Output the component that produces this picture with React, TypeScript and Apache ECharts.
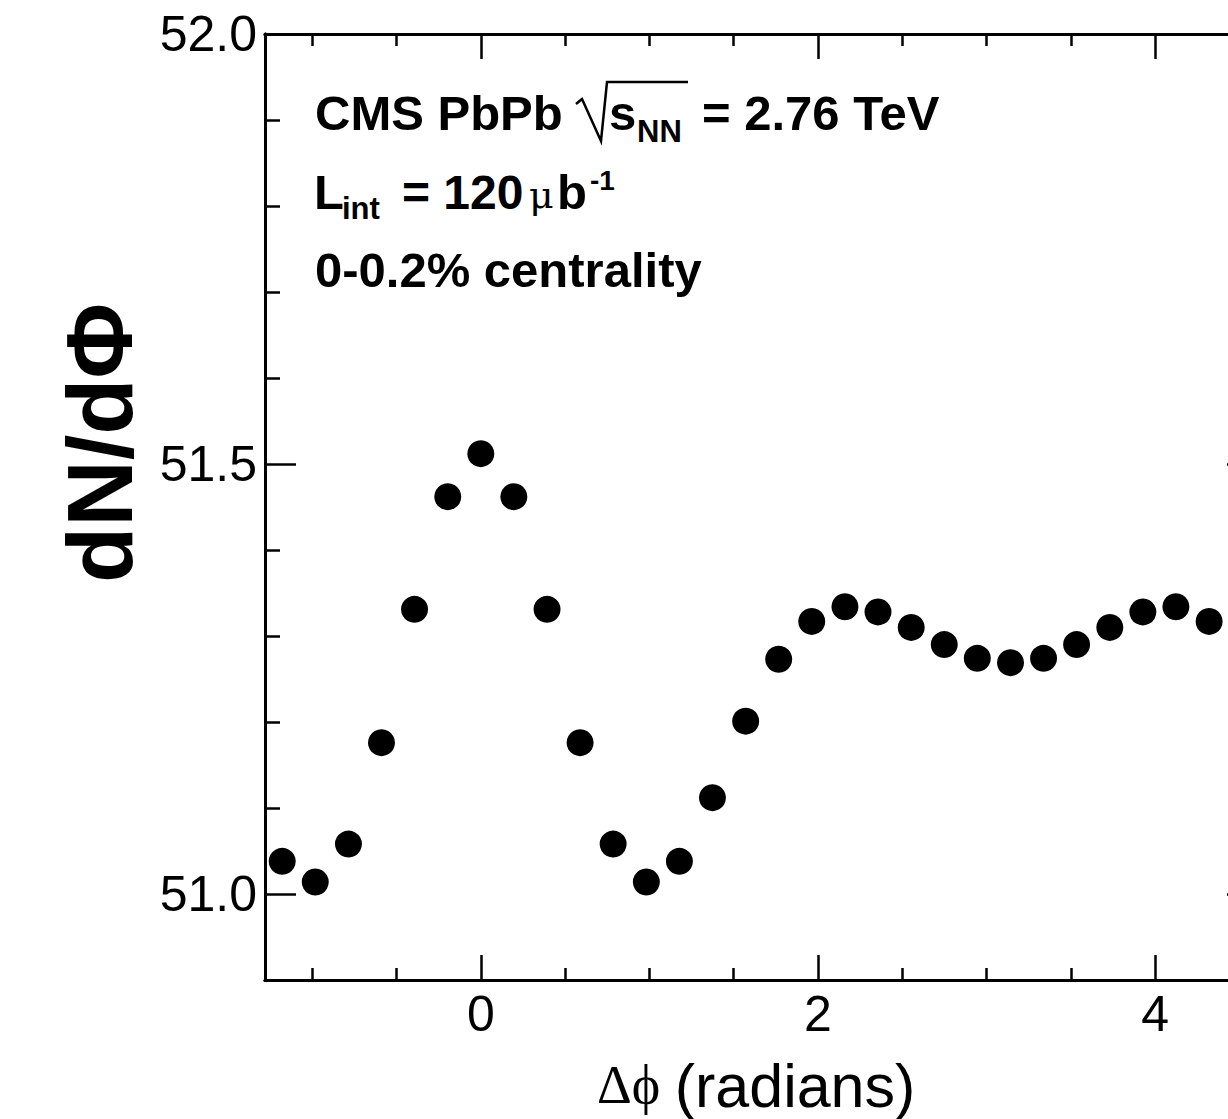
import React, { useEffect, useRef } from "react";
import * as echarts from "echarts";

// Bin centres in Δφ (radians) and measured dN/dΔφ
const dphi = [
  -1.178, -0.982, -0.785, -0.589, -0.393, -0.196, 0.0, 0.196, 0.393, 0.589,
  0.785, 0.982, 1.178, 1.374, 1.571, 1.767, 1.963, 2.16, 2.356, 2.553, 2.749,
  2.945, 3.142, 3.338, 3.534, 3.731, 3.927, 4.123, 4.32,
];
const dNdphi = [
  51.038, 51.014, 51.058, 51.176, 51.331, 51.462, 51.512, 51.462, 51.331,
  51.176, 51.058, 51.014, 51.038, 51.112, 51.201, 51.273, 51.317, 51.334,
  51.328, 51.31, 51.29, 51.274, 51.269, 51.274, 51.29, 51.31, 51.328, 51.334,
  51.317,
];

const xMajorTicks = [0, 2, 4];
const xMinorTicks = [-1, -0.5, 0.5, 1, 1.5, 2.5, 3, 3.5, 4.5];
const yMajorTicks = [51.0, 51.5, 52.0];
const yMinorTicks = [51.1, 51.2, 51.3, 51.4, 51.6, 51.7, 51.8, 51.9];

const X_MIN = -1.28;
const X_MAX = 4.61;
const Y_MIN = 50.9;
const Y_MAX = 52.0;

const SANS = "'Liberation Sans', Arial, Helvetica, sans-serif";
const SERIF = "'Liberation Serif', 'DejaVu Serif', 'Times New Roman', serif";

const CHART_W = 1300;

export default function App() {
  const ref = useRef<HTMLDivElement>(null);

  useEffect(() => {
    if (!ref.current) return;
    const chart = echarts.init(ref.current, undefined, { renderer: "svg" });

    const axisLine = { show: true, onZero: false, lineStyle: { color: "#000", width: 3 } };
    const mkX = (position: string, ticks: number[], len: number, labels: boolean) => ({
      type: "value",
      position,
      min: X_MIN,
      max: X_MAX,
      splitLine: { show: false },
      axisLine,
      axisTick: {
        show: true,
        inside: true,
        length: len,
        customValues: ticks,
        lineStyle: { color: "#000", width: 2.5 },
      },
      axisLabel: labels
        ? {
            show: true,
            customValues: xMajorTicks,
            fontSize: 50,
            fontFamily: SANS,
            color: "#000",
            margin: 9,
            formatter: (v: number) => String(v),
          }
        : { show: false },
    });
    const mkY = (position: string, ticks: number[], len: number, labels: boolean) => ({
      type: "value",
      position,
      min: Y_MIN,
      max: Y_MAX,
      splitLine: { show: false },
      axisLine,
      axisTick: {
        show: true,
        inside: true,
        length: len,
        customValues: ticks,
        lineStyle: { color: "#000", width: 2.5 },
      },
      axisLabel: labels
        ? {
            show: true,
            customValues: yMajorTicks,
            fontSize: 50,
            fontFamily: SANS,
            color: "#000",
            margin: 8,
            formatter: (v: number) => v.toFixed(1),
          }
        : { show: false },
    });

    const bold = (size: number) => ({ fontSize: size, fontWeight: "bold", fontFamily: SANS, fill: "#000" });
    const txt = (text: string, x: number, y: number, style: any, extra: any = {}) => ({
      type: "text",
      x,
      y,
      style: { text, verticalAlign: "middle", align: "left", ...style },
      ...extra,
    });

    chart.setOption({
      animation: false,
      backgroundColor: "#fff",
      grid: { left: 265, top: 34, bottom: 139, right: CHART_W - 1258, containLabel: false },
      xAxis: [
        mkX("bottom", xMajorTicks, 25, true),
        mkX("bottom", xMinorTicks, 12, false),
        mkX("top", xMajorTicks, 25, false),
        mkX("top", xMinorTicks, 12, false),
      ],
      yAxis: [
        mkY("left", yMajorTicks, 31, true),
        mkY("left", yMinorTicks, 15, false),
        mkY("right", yMajorTicks, 31, false),
        mkY("right", yMinorTicks, 15, false),
      ],
      series: [
        {
          type: "scatter",
          xAxisIndex: 0,
          yAxisIndex: 0,
          data: dphi.map((x, i) => [x, dNdphi[i]]),
          symbol: "circle",
          symbolSize: 27,
          itemStyle: { color: "#000", opacity: 1 },
          clip: true,
        },
      ],
      graphic: [
        // line 1
        txt("CMS PbPb", 315, 113, bold(49)),
        {
          type: "polyline",
          shape: { points: [[576, 104], [582, 99], [601, 141], [607, 82], [688, 82]] },
          style: { stroke: "#000", lineWidth: 2.5, fill: null, lineJoin: "miter" },
        },
        txt("s", 609, 113, bold(49)),
        txt("NN", 637, 131, bold(31)),
        txt("= 2.76 TeV", 702, 113, bold(49)),
        // line 2
        txt("L", 314, 192, bold(49)),
        txt("int", 342, 208, bold(31)),
        txt("= 120", 402, 192, bold(48)),
        txt("\u03bc", 529, 195, { fontSize: 38, fontFamily: "'DejaVu Serif', serif", fill: "#000", opacity: 1 }),
        txt("b", 557, 192, bold(49)),
        txt("-1", 590, 180, bold(28)),
        // line 3
        txt("0-0.2% centrality", 315, 270, bold(49)),
        // y title
        {
          type: "text",
          x: 100,
          y: 443,
          rotation: Math.PI / 2,
          style: {
            text: "dN/d\u03a6",
            fontSize: 92,
            fontWeight: "bold",
            fontFamily: SANS,
            fill: "#000",
            align: "center",
            verticalAlign: "middle",
          },
        },
        // x title
        txt("\u0394\u03d5", 597, 1085, { fontSize: 54, fontFamily: SERIF, fill: "#000" }),
        {
          type: "text",
          x: 795,
          y: 1086,
          style: {
            text: "(radians)",
            fontSize: 61,
            fontFamily: SANS,
            fill: "#000",
            align: "center",
            verticalAlign: "middle",
          },
        },
      ],
    });

    return () => chart.dispose();
  }, []);

  return (
    <div
      style={{
        position: "fixed",
        left: 0,
        top: 0,
        width: 1228,
        height: 1119,
        overflow: "hidden",
        background: "#fff",
      }}
    >
      <div ref={ref} style={{ width: CHART_W, height: 1119 }} />
    </div>
  );
}
